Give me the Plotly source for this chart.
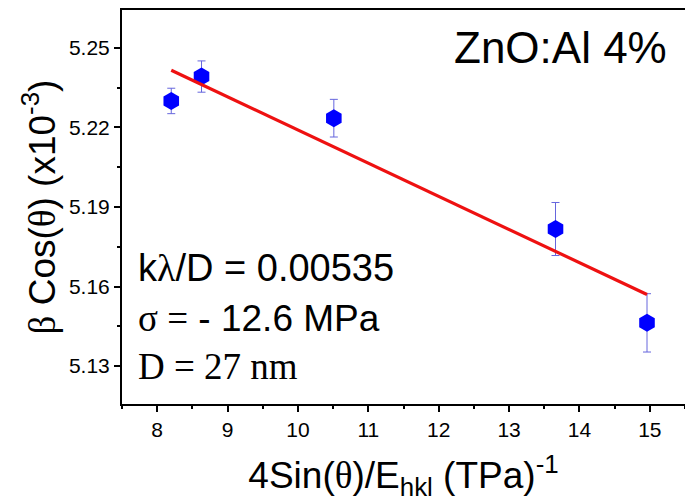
import numpy as np
import plotly.graph_objects as go

# Data
x_vals = [8.20, 8.63, 10.51, 13.66, 14.96]
y_vals = [5.2300, 5.2392, 5.2235, 5.1817, 5.1463]
y_err = [0.0048, 0.0059, 0.0071, 0.0100, 0.0110]

x_tickvals = [8, 9, 10, 11, 12, 13, 14, 15]
y_tickvals = [5.13, 5.16, 5.19, 5.22, 5.25]
y_ticktext = ["5.13", "5.16", "5.19", "5.22", "5.25"]

# linear fit
slope, intercept = np.polyfit(x_vals, y_vals, 1)
fit_x = [min(x_vals), max(x_vals)]
fit_y = [slope * v + intercept for v in fit_x]

SANS = "Liberation Sans, Arial, sans-serif"
SERIF = "Liberation Serif, Times New Roman, serif"

fig = go.Figure()
fig.add_trace(go.Scatter(
    x=x_vals, y=y_vals, mode="markers",
    marker=dict(symbol="hexagon", size=18, color="#0000FF", line=dict(width=0)),
    error_y=dict(type="data", array=y_err, visible=True, color="#6666DD", thickness=1, width=4),
    showlegend=False,
))
fig.add_trace(go.Scatter(
    x=fit_x, y=fit_y, mode="lines",
    line=dict(color="#EE1111", width=3.2), showlegend=False,
))

L, T, B, R = 122, 10, 100, 0
W, H = 685, 504
pw, ph = W - L - R, H - T - B

def px_x(p):
    return (p - L) / pw

def px_y(p):
    return (H - B - p) / ph

fig.update_layout(
    width=W, height=H,
    margin=dict(l=L, r=R, t=T, b=B),
    paper_bgcolor="white", plot_bgcolor="white",
    font=dict(family=SANS, color="black"),
    xaxis=dict(
        range=[7.5, 15.5], tickvals=x_tickvals,
        showline=True, linecolor="black", linewidth=2, mirror=True,
        ticks="outside", ticklen=6, tickwidth=1.5, tickcolor="black",
        minor=dict(ticks="outside", dtick=0.5, ticklen=3, tickwidth=1.5, tickcolor="black"),
        showgrid=False, zeroline=False,
        tickfont=dict(size=21, family=SANS),
        title=dict(
            text='4Sin(<span style="font-family:Liberation Serif">θ</span>)/E<sub>hkl</sub> (TPa)<sup>-1</sup>',
            font=dict(size=37, family=SANS), standoff=22),
    ),
    yaxis=dict(
        range=[5.1157, 5.2643], tickvals=y_tickvals, ticktext=y_ticktext,
        showline=True, linecolor="black", linewidth=2, mirror=False,
        ticks="outside", ticklen=6, tickwidth=1.5, tickcolor="black",
        minor=dict(ticks="outside", dtick=0.015, tick0=5.13, ticklen=3, tickwidth=1.5, tickcolor="black"),
        showgrid=False, zeroline=False,
        tickfont=dict(size=21, family=SANS),
        title=dict(
            text='<span style="font-family:Liberation Serif">β</span> Cos(<span style="font-family:Liberation Serif">θ</span>) (x10<sup>-3</sup>)',
            font=dict(size=37, family=SANS), standoff=2),
    ),
)

annos = [
    dict(text="ZnO:Al 4%", x=px_x(452), y=px_y(47.5), size=44, family=SANS),
    dict(text='k<span style="font-family:Liberation Serif">λ</span>/D = 0.00535', x=px_x(136), y=px_y(268), size=38, family=SANS),
    dict(text='<span style="font-family:Liberation Serif">σ =</span> - 12.6 MPa', x=px_x(136), y=px_y(318), size=37, family=SANS),
    dict(text="D = 27 nm", x=px_x(136), y=px_y(366), size=37, family=SERIF),
]
for a in annos:
    fig.add_annotation(
        text=a["text"], x=a["x"], y=a["y"], xref="paper", yref="paper",
        xanchor="left", yanchor="middle", showarrow=False,
        font=dict(size=a["size"], family=a["family"], color="black"),
    )

fig.write_html("out.html")
